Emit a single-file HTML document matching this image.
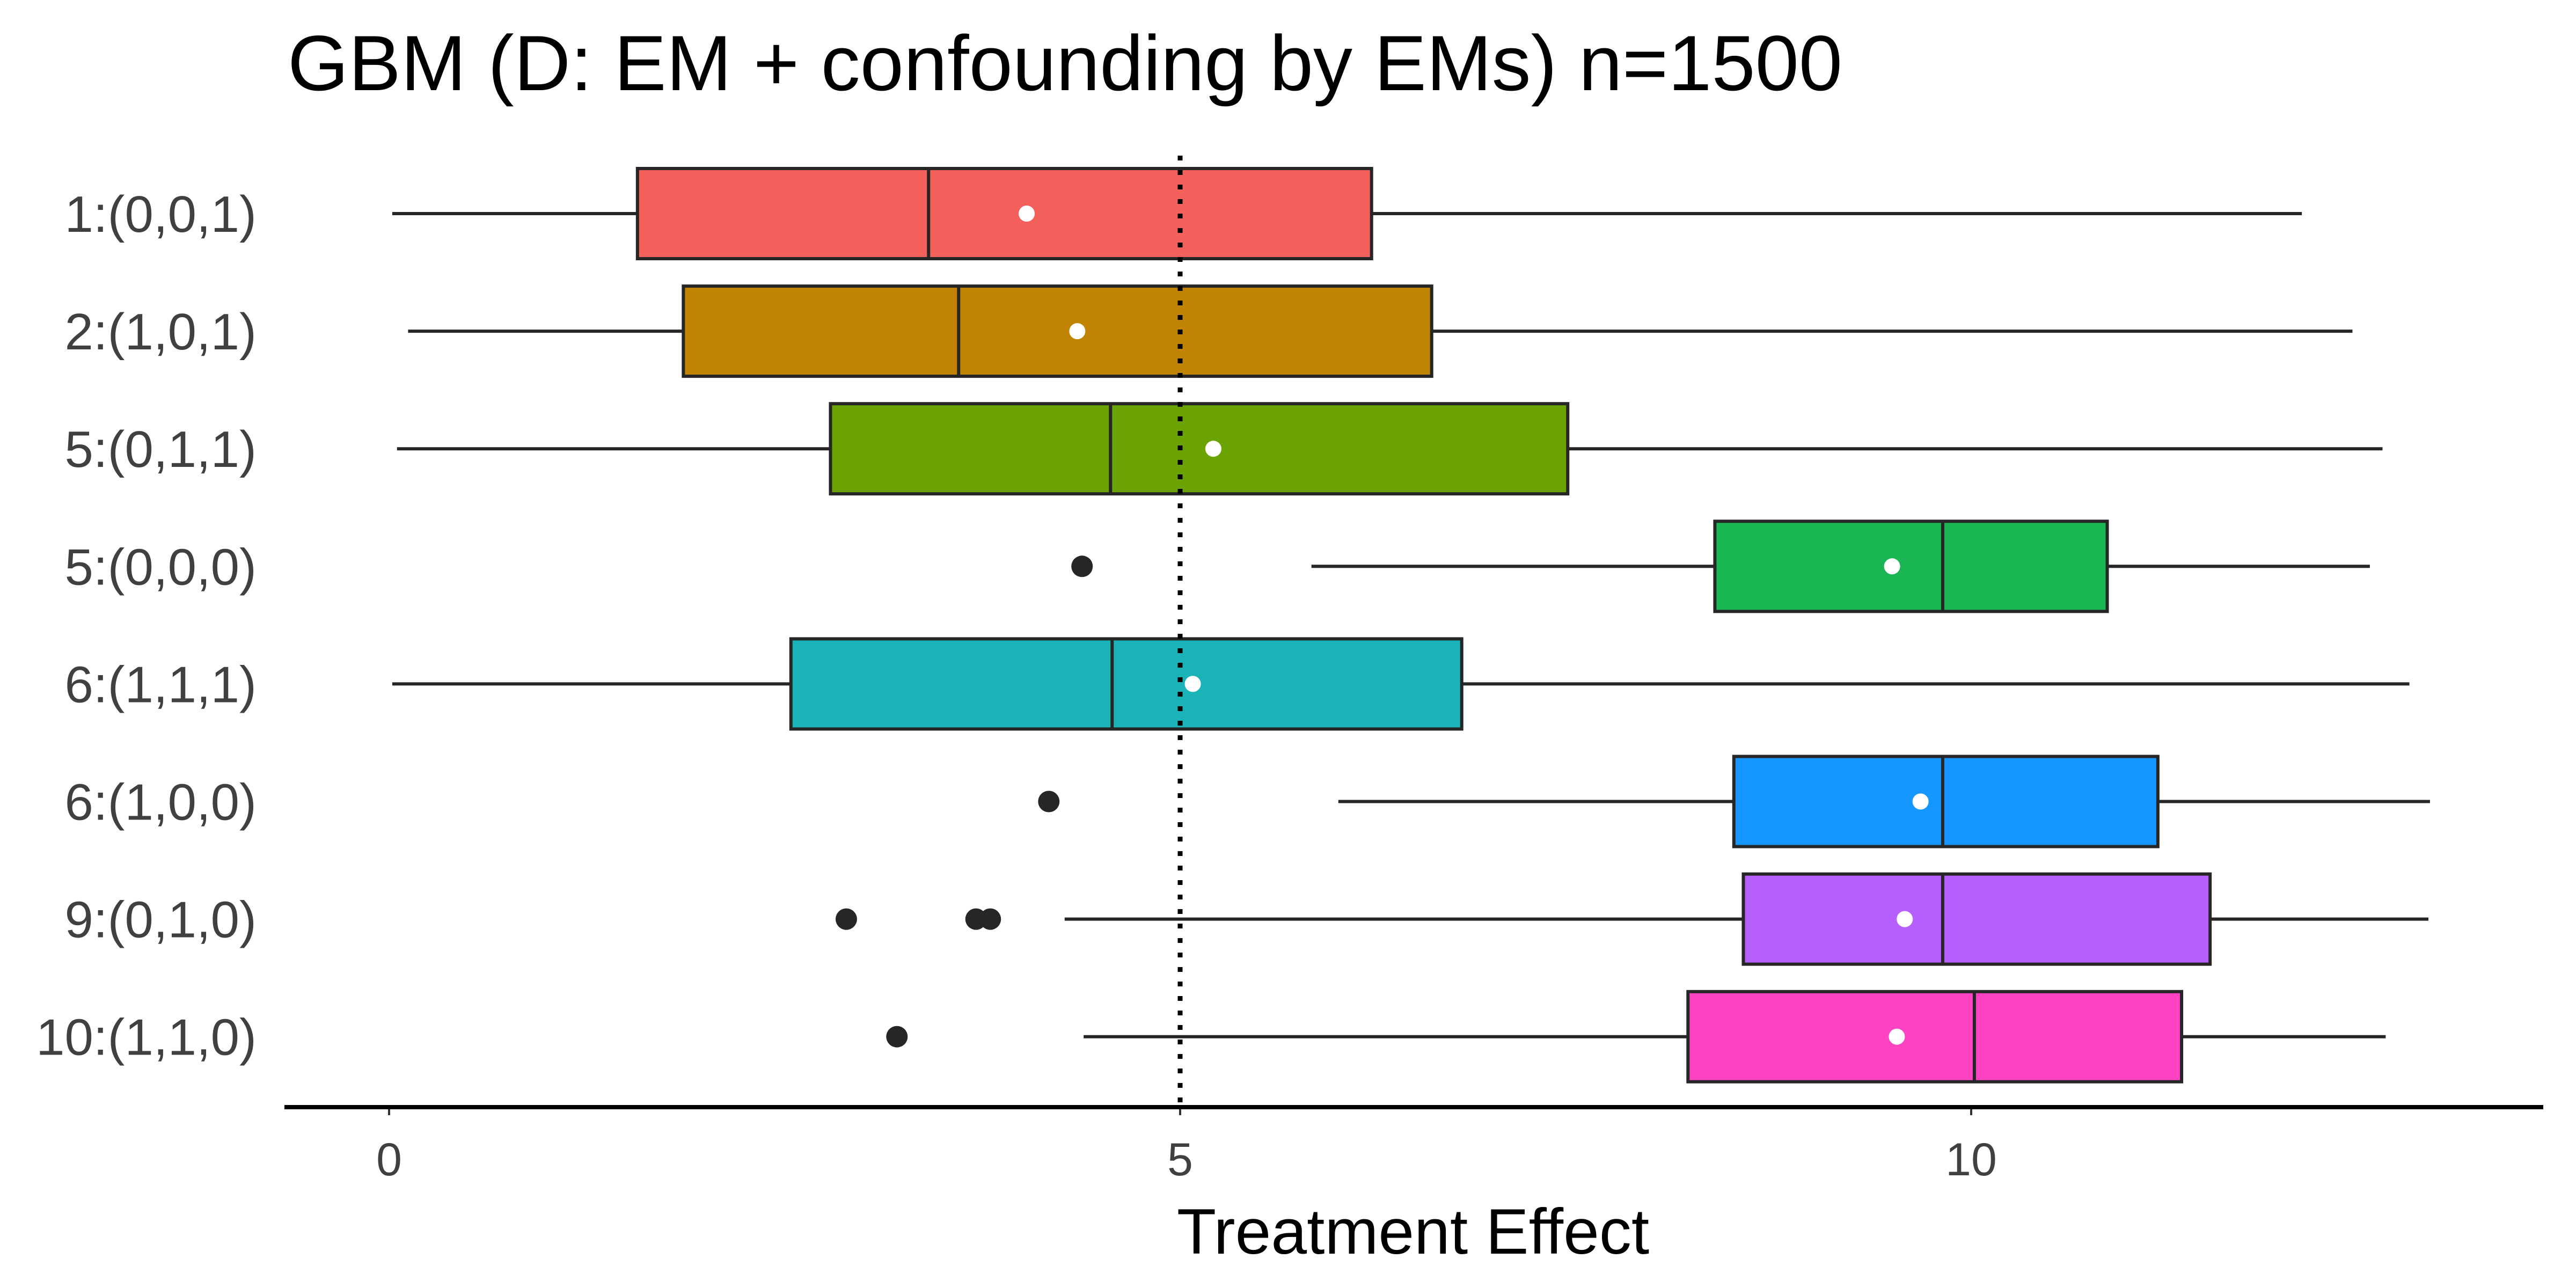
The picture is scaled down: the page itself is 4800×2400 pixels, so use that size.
<!DOCTYPE html>
<html><head><meta charset="utf-8"><style>
html,body{margin:0;padding:0;background:#fff;}
svg{display:block;font-family:"Liberation Sans",sans-serif;}
</style></head><body>
<svg id="chart" width="4800" height="2400" viewBox="0 0 4800 2400">
<text x="536" y="168" font-size="146" fill="#000">GBM (D: EM + confounding by EMs) n=1500</text>
<g id="plot"></g>
<line x1="530" y1="2063" x2="4739" y2="2063" stroke="#000" stroke-width="8"/>
<text x="2633" y="2336" font-size="120" text-anchor="middle" fill="#000">Treatment Effect</text>
</svg>
<script>
const categories=["1:(0,0,1)","2:(1,0,1)","5:(0,1,1)","5:(0,0,0)","6:(1,1,1)","6:(1,0,0)","9:(0,1,0)","10:(1,1,0)"];
const whiskerLow=[0.02,0.12,0.05,5.83,0.02,6.00,4.27,4.39];
const q1=[1.57,1.86,2.79,8.38,2.54,8.50,8.56,8.21];
const medians=[3.41,3.60,4.56,9.82,4.57,9.82,9.82,10.02];
const q3=[6.21,6.59,7.45,10.86,6.78,11.18,11.51,11.33];
const whiskerHigh=[12.09,12.41,12.60,12.52,12.77,12.90,12.89,12.62];
const means=[4.03,4.35,5.21,9.50,5.08,9.68,9.58,9.53];
const outliers=[[],[],[],[4.38],[],[4.17],[2.89,3.71,3.80],[3.21]];
const colors=["#F4615D","#C08304","#6BA304","#19B653","#1AB4B8","#1597FF","#B65FFF","#FF43C3"];
const xTicks=[0,5,10];
const refLine=5;

const NS="http://www.w3.org/2000/svg";
const g=document.getElementById('plot');
function xs(v){return 725+v*294.8;}
function ys(i){return 398+i*219.1;}
function mk(tag,attrs){const e=document.createElementNS(NS,tag);for(const k in attrs)e.setAttribute(k,attrs[k]);g.appendChild(e);return e;}
const H=84;
categories.forEach((c,i)=>{
  const y=ys(i);
  let t=mk('text',{x:478,y:y+34,'font-size':96,'text-anchor':'end',fill:'#404040'});t.textContent=c;
  
  
  let w=mk('line',{x1:xs(whiskerLow[i]),x2:xs(whiskerHigh[i]),y1:y,y2:y,stroke:'#262626','stroke-width':6});
  
  
  let b=mk('rect',{x:xs(q1[i]),y:y-H,width:xs(q3[i])-xs(q1[i]),height:2*H,fill:colors[i],stroke:'#262626','stroke-width':6});
  
  
  let m=mk('line',{x1:xs(medians[i]),x2:xs(medians[i]),y1:y-H,y2:y+H,stroke:'#262626','stroke-width':6});
  
  
  outliers[i].forEach((o,j)=>{
    let p=mk('circle',{cx:xs(o),cy:y,r:20,fill:'#262626'});
    
    
  });
  let mn=mk('circle',{cx:xs(means[i]),cy:y,r:15,fill:'#fff'});
  
  
});
let rl=mk('line',{x1:xs(refLine),x2:xs(refLine),y1:290,y2:2063,stroke:'#000','stroke-width':9,'stroke-dasharray':'9 18'});


xTicks.forEach((v,i)=>{
  let tk=mk('line',{x1:xs(v),x2:xs(v),y1:2063,y2:2078,stroke:'#333','stroke-width':4});
  
  
  let t=mk('text',{x:xs(v),y:2190,'font-size':86,'text-anchor':'middle',fill:'#404040'});t.textContent=v;
  
  
});
</script>
</body></html>
